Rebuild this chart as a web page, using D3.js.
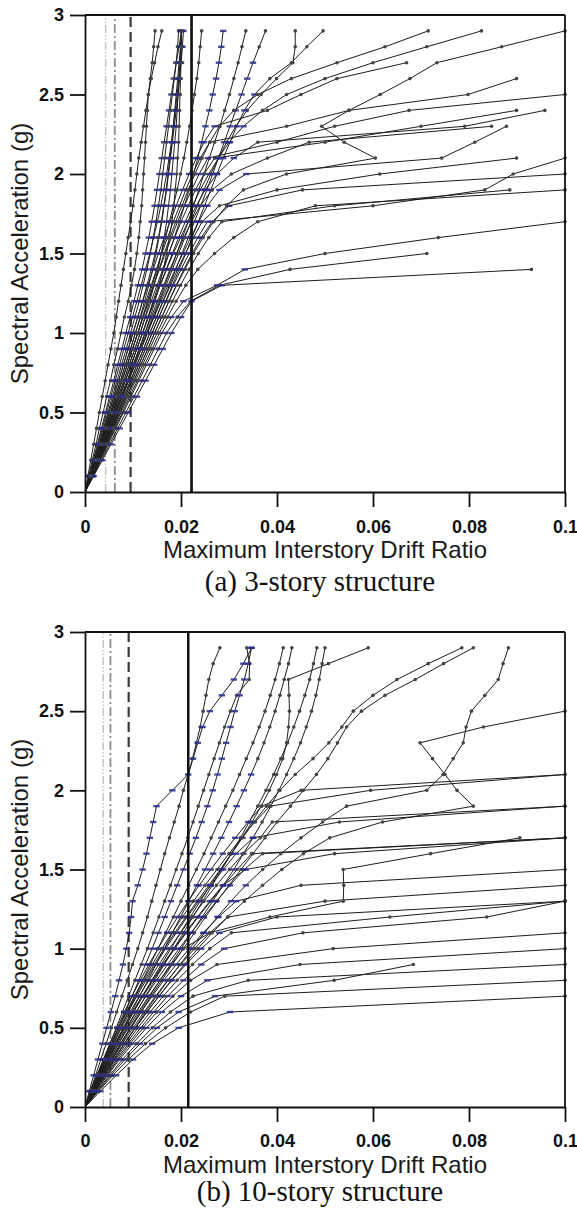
<!DOCTYPE html>
<html><head><meta charset="utf-8">
<script src="https://cdn.jsdelivr.net/npm/d3@7/dist/d3.min.js"></script>
<style>body{margin:0;background:#fff}svg{display:block}</style>
</head><body>
<svg id="c" width="577" height="1212"></svg>
<script>
// Spectral acceleration levels (g); curve values are max interstory drift x1000 at each level
const saLevels = [0,0.1,0.2,0.3,0.4,0.5,0.6,0.7,0.8,0.9,1.0,1.1,1.2,1.3,1.4,1.5,1.6,1.7,1.8,1.9,2.0,2.1,2.2,2.3,2.4,2.5,2.6,2.7,2.8,2.9];
const xTicks = [0,0.02,0.04,0.06,0.08,0.1];
const xTickLabels = ["0","0.02","0.04","0.06","0.08","0.1"];
const yTicks = [0,0.5,1,1.5,2,2.5,3];
const yTickLabels = ["0","0.5","1","1.5","2","2.5","3"];
const refLinesA = [0.0043,0.0062,0.0095,0.0222];
const refLinesB = [0.0038,0.0053,0.0091,0.0215];
const captionA = "(a) 3-story structure";
const captionB = "(b) 10-story structure";
const xTitle = "Maximum Interstory Drift Ratio";
const yTitle = "Spectral Acceleration (g)";

// 3-story structure IDA curves (drift x1000)
const curvesA = [
[0,.8,1.5,2.3,3.0,3.8,4.5,5.3,6.0,6.8,7.5,8.2,9.0,9.7,10.3,10.8,11.2,11.5,11.8,12.0,12.2,12.4,12.6,12.8,13.0,13.2,13.6,14.0,14.3,14.6],
[0,.9,1.7,2.6,3.4,4.3,5.1,6.0,6.8,7.7,8.5,9.4,10.2,11.0,11.9,12.6,13.3,13.9,14.5,15.0,15.5,16.0,16.5,17.0,17.5,18.0,18.5,19.0,19.6,20.1],
[0,1.0,1.9,2.9,3.8,4.8,5.7,6.7,7.6,8.6,9.5,10.4,11.3,12.1,12.9,13.6,14.2,14.8,15.3,15.8,16.2,16.6,17.0,17.4,17.8,18.2,18.6,19.0,19.3,19.5],
[0,1.1,2.1,3.2,4.2,5.3,6.3,7.4,8.4,9.5,10.5,11.5,12.4,13.3,14.1,14.8,15.4,16.0,16.5,17.0,17.4,17.8,18.2,18.6,19.0,19.4,19.7,20.0,20.3,20.5],
[0,1.1,2.2,3.3,4.4,5.5,6.6,7.7,8.8,9.9,11.0,12.0,13.0,14.0,15.0,15.9,16.8,17.6,18.4,19.2,19.9,20.6,21.2,21.8,22.3,22.8,23.3,23.7,24.0,24.3],
[0,1.2,2.4,3.6,4.8,6.0,7.2,8.4,9.6,10.8,12.0,13.1,14.2,15.3,16.4,17.5,18.6,19.7,20.7,21.7,22.6,23.5,24.3,25.1,25.9,26.6,27.3,27.9,28.4,28.8],
[0,1.3,2.6,3.8,5.1,6.4,7.7,9.0,10.2,11.5,12.8,14.1,15.4,16.6,17.9,19.1,20.3,21.5,22.6,23.7,24.8,25.9,27.0,28.1,29.1,30.1,31.0,31.9,32.7,33.5],
[0,1.4,2.7,4.1,5.4,6.8,8.1,9.5,10.8,12.2,13.5,14.9,16.2,17.6,18.9,20.2,21.5,22.8,24.1,25.4,26.6,27.8,29.0,30.2,31.4,32.6,33.8,35.0,36.3,37.6],
[0,1.3,2.6,3.9,5.2,6.5,7.8,9.1,10.4,11.7,13.0,14.3,15.6,16.9,18.2,19.5,20.8,22.1,23.4,24.8,26.2,27.8,29.5,31.4,33.8,36.7,39.9,43.3,43.8,43.8],
[0,1.4,2.8,4.2,5.6,7.0,8.4,9.8,11.2,12.6,14.0,15.4,16.8,18.2,19.6,21.0,22.3,23.6,24.9,26.2,27.5,28.8,30.2,31.6,33.2,35.3,38.5,43.0,46.2,49.6],
[0,1.0,2.0,3.0,4.0,5.0,6.0,7.0,8.0,9.0,10.0,11.0,12.0,12.9,13.8,14.6,15.3,15.9,16.4,16.9,17.3,17.7,18.1,18.4,18.7,19.0,19.3,19.6,19.9,20.1],
[0,1.2,2.3,3.5,4.6,5.8,6.9,8.1,9.2,10.4,11.5,12.5,13.5,14.4,15.2,15.9,16.5,17.0,17.4,17.8,18.1,18.4,18.7,19.0,19.2,19.4,19.6,19.8,20.0,20.1],
[0,.6,1.2,1.8,2.4,3.0,3.6,4.2,4.8,5.4,6.0,6.5,7.0,7.5,8.0,8.5,9.0,9.5,10.0,10.4,10.8,11.2,11.7,12.2,12.7,13.2,13.8,14.5,15.2,16.0],
[0,.9,1.8,2.7,3.6,4.5,5.4,6.3,7.2,8.1,9.0,9.9,10.8,11.7,12.6,13.5,14.3,15.1,15.8,16.4,17.0,17.5,18.0,18.4,18.8,19.2,19.5,19.8,20.0,20.1],
[0,1.3,2.5,3.8,5.0,6.3,7.5,8.8,10.0,11.3,12.5,13.6,14.6,15.5,16.3,17.0,17.6,18.1,18.5,18.8,19.1,19.3,19.5,19.6,19.7,19.8,19.9,20.0,20.1,20.1],
[0,1.6,3.2,4.8,6.4,8.0,9.6,11.2,12.8,14.4,16.0,18.0,20.5,27.5,33.3,50.0,73.6,100],
[0,1.7,3.4,5.1,6.8,8.5,10.2,11.9,13.6,15.3,17.0,19.2,22.0,28.0,42.7,71.2],
[0,1.8,3.6,5.4,7.2,9.0,10.8,12.6,14.4,16.2,18.0,20.0,22.2,28.5,93.0],
[0,1.6,3.1,4.7,6.2,7.8,9.3,10.9,12.4,14.0,15.5,17.2,19.0,21.0,23.5,27.0,31.0,36.0,48.0,100],
[0,1.5,2.9,4.4,5.8,7.3,8.7,10.2,11.6,13.1,14.5,16.0,17.5,19.0,20.6,22.3,24.2,26.5,30.0,45.3,100],
[0,1.5,3.0,4.5,6.0,7.5,9.0,10.5,12.0,13.5,15.0,16.6,18.2,19.9,21.7,23.6,25.8,28.5,52.0,88.5],
[0,1.4,2.8,4.2,5.6,7.0,8.4,9.8,11.2,12.6,14.0,15.4,16.9,18.4,20.0,21.7,23.5,25.5,60.0,83.3,89.2,100],
[0,1.4,2.7,4.1,5.4,6.8,8.1,9.5,10.8,12.2,13.5,14.9,16.3,17.8,19.3,20.9,22.6,24.4,28.0,40.0,61.4,89.9],
[0,1.3,2.6,3.9,5.2,6.5,7.8,9.1,10.4,11.7,13.0,14.4,15.8,17.3,18.8,20.4,22.0,23.7,25.5,28.0,33.6,74.3,81.2,87.8],
[0,1.3,2.5,3.8,5.0,6.3,7.5,8.8,10.0,11.3,12.5,13.8,15.1,16.4,17.7,19.1,20.6,22.2,24.0,26.5,30.5,38.0,46.7,84.7],
[0,1.2,2.4,3.6,4.8,6.0,7.2,8.4,9.6,10.8,12.0,13.2,14.4,15.7,17.0,18.4,19.9,21.5,23.2,25.0,27.5,31.0,36.0,79.1,95.8],
[0,1.2,2.3,3.5,4.6,5.8,6.9,8.1,9.2,10.4,11.5,12.6,13.8,15.0,16.2,17.4,18.7,20.0,21.5,23.0,24.8,27.0,50.0,70.0,89.9],
[0,1.1,2.2,3.3,4.4,5.5,6.6,7.7,8.8,9.9,11.0,12.1,13.2,14.3,15.5,16.7,18.0,19.3,20.7,22.2,23.8,25.6,40.0,52.0,67.5,100],
[0,1.1,2.1,3.2,4.2,5.3,6.3,7.4,8.4,9.5,10.5,11.6,12.7,13.8,14.9,16.0,17.2,18.4,19.7,21.0,22.4,24.0,26.0,42.0,55.0,79.8,89.9],
[0,1.0,2.0,3.0,4.0,5.0,6.0,7.0,8.0,9.0,10.0,11.0,12.0,13.1,14.2,15.3,16.5,17.7,19.0,20.3,21.7,23.2,24.8,27.0,38.0,45.0,52.5,67.0],
[0,1.5,2.9,4.4,5.8,7.3,8.7,10.2,11.6,13.1,14.5,16.0,17.5,19.1,20.8,22.6,24.6,26.8,29.5,33.0,42.0,60.5,54.0,49.3,55.0,61.5,67.7,73.3,86.8,100],
[0,1.2,2.4,3.6,4.8,6.0,7.2,8.4,9.6,10.8,12.0,13.2,14.4,15.6,16.9,18.2,19.5,20.9,22.4,24.0,25.8,27.8,30.0,33.0,37.0,42.0,50.0,60.0,71.2,82.6],
[0,1.1,2.2,3.3,4.4,5.5,6.6,7.7,8.8,9.9,11.0,12.1,13.2,14.3,15.4,16.5,17.7,18.9,20.2,21.5,22.9,24.4,26.0,28.0,31.0,36.0,43.0,52.5,62.5,71.5]
];

// 10-story structure IDA curves (drift x1000)
const curvesB = [
[0,1.1,2.2,3.3,4.4,5.5,6.6,7.7,8.8,9.9,11.0,12.0,13.0,13.9,14.8,15.7,16.6,17.6,18.6,19.6,20.5,21.5,22.4,23.2,24.0,24.6,25.2,25.8,26.7,28.1],
[0,0.9,1.8,2.7,3.6,4.5,5.4,6.3,7.1,7.9,8.6,9.2,9.6,9.9,11.0,12.0,12.8,13.5,14.2,14.9,18.2,21.5,22.5,23.5,24.5,26.0,28.5,31.0,33.0,34.7],
[0,1.3,2.6,3.9,5.2,6.5,7.8,9.1,10.4,11.7,13.0,14.2,15.4,16.6,17.8,19.0,20.2,21.4,22.5,23.6,24.7,25.8,26.9,28.0,29.1,30.3,31.6,34.2,34.3,33.7],
[0,1.4,2.8,4.2,5.6,7.0,8.4,9.8,11.2,12.6,14.0,15.3,16.6,17.9,19.2,20.5,21.8,23.1,24.3,25.5,26.6,27.6,28.5,29.4,30.3,31.2,32.2,33.2,34.0,34.7],
[0,1.5,3.0,4.5,6.0,7.5,9.0,10.5,12.0,13.6,15.2,16.8,18.4,20.0,21.6,23.2,24.8,26.3,27.8,29.3,30.8,32.2,33.6,35.0,36.3,37.5,38.6,39.6,40.5,41.3],
[0,1.6,3.2,4.8,6.4,8.0,9.7,11.4,13.1,14.8,16.5,18.2,19.9,21.6,23.3,25.0,26.7,28.4,30.0,31.6,33.1,34.6,36.0,37.3,38.5,39.6,40.6,41.5,42.4,43.1],
[0,1.7,3.4,5.2,7.0,8.8,10.7,12.6,14.5,16.5,18.5,20.5,22.5,24.5,26.5,28.5,30.5,32.4,34.2,36.0,37.7,39.3,40.8,42.2,43.5,44.7,45.8,46.8,47.6,48.3],
[0,1.8,3.6,5.5,7.4,9.4,11.4,13.5,15.6,17.8,20.0,22.2,24.4,26.6,28.8,31.0,33.0,35.0,36.9,38.7,40.4,42.0,43.5,44.9,46.1,47.2,48.1,48.8,49.4,50.0],
[0,1.2,2.5,3.9,5.4,7.0,8.7,10.5,12.4,14.4,16.5,18.7,21.0,23.4,25.8,28.2,30.5,32.7,34.8,36.7,38.4,39.9,41.2,42.0,42.4,42.6,42.5,42.4,50.7,59.0],
[0,1.5,3.1,4.8,6.5,8.3,10.1,12.0,13.9,15.9,17.9,19.9,21.9,24.0,26.1,28.3,30.5,32.8,35.2,37.8,40.6,43.8,47.5,50.8,53.5,55.9,60.0,65.0,71.5,78.5],
[0,1.8,3.7,5.6,7.6,9.6,11.7,13.8,16.0,18.2,20.5,22.8,25.1,27.5,30.0,32.5,35.0,37.5,40.0,42.8,45.5,48.2,50.6,52.6,54.5,57.6,62.5,68.8,74.7,80.9],
[0,2.0,4.0,6.1,8.2,10.4,12.6,14.9,17.3,19.8,22.3,24.9,27.6,30.4,33.5,37.0,40.8,45.0,49.5,54.5,71.2,74.6,76.7,78.8,79.4,80.5,83.3,86.1,87.1,88.2],
[0,1.9,3.9,6.0,8.2,10.5,12.9,15.4,18.0,20.7,23.5,26.5,29.7,33.2,37.0,41.0,45.5,51.0,62.0,80.9,77.5,75.0,72.4,69.8,83.0,100],
[0,3.2,6.5,10.0,14.0,19.5,30.2,100],
[0,2.8,5.8,9.0,12.6,16.8,22.0,29.1,100],
[0,2.6,5.4,8.3,11.5,15.0,19.5,27.1,51.9,68.4],
[0,2.5,5.1,7.8,10.8,14.0,17.8,22.5,34.0,100],
[0,2.3,4.7,7.2,9.9,12.8,16.0,20.0,25.5,44.8,100],
[0,2.2,4.5,6.9,9.4,12.1,15.0,18.3,22.0,27.5,51.7,100],
[0,2.1,4.3,6.6,9.0,11.6,14.3,17.2,20.5,24.2,29.0,45.4,83.7,100],
[0,2.0,4.1,6.3,8.6,11.0,13.6,16.3,19.2,22.4,26.0,30.5,63.5,100],
[0,1.9,3.9,6.0,8.2,10.5,12.9,15.4,18.1,21.0,24.2,28.0,40.0,100],
[0,1.8,3.7,5.7,7.8,10.0,12.3,14.7,17.2,19.9,22.8,26.0,29.8,50.0,100],
[0,1.7,3.5,5.4,7.4,9.5,11.7,14.0,16.4,19.0,21.7,24.6,27.8,31.5,45.0,100],
[0,1.6,3.3,5.1,7.0,9.0,11.1,13.3,15.6,18.0,20.5,26.0,38.5,53.8,53.9,53.8,72.0,90.6],
[0,1.6,3.2,4.9,6.7,8.6,10.6,12.7,14.9,17.2,19.6,22.1,24.7,27.4,30.2,33.2,37.0,100],
[0,1.5,3.1,4.7,6.4,8.2,10.1,12.1,14.2,16.4,18.7,21.1,23.6,26.2,28.9,31.7,34.7,100],
[0,1.4,2.9,4.5,6.2,8.0,9.9,11.9,14.0,16.2,18.5,20.9,23.4,26.0,28.7,33.5,52.0,100],
[0,1.4,2.8,4.3,5.9,7.6,9.4,11.3,13.3,15.4,17.6,19.9,22.3,24.8,27.4,30.1,33.0,36.5,39.0,100],
[0,1.3,2.7,4.2,5.7,7.3,9.0,10.8,12.7,14.7,16.8,19.0,21.3,23.7,26.2,28.8,31.5,35.0,53.0,100],
[0,1.3,2.6,4.0,5.5,7.0,8.6,10.3,12.1,14.0,16.0,18.1,20.3,22.6,25.0,27.5,30.0,32.6,35.4,38.5,59.5,100],
[0,1.2,2.5,3.8,5.2,6.7,8.2,9.8,11.5,13.3,15.2,17.2,19.3,21.5,23.8,26.2,28.7,31.3,34.0,36.8,45.0,100]
];

const svg = d3.select("#c");
const panels = [
  {curves: curvesA, refs: refLinesA, top: 15, bottom: 492, caption: captionA, tickPad: 13, titleY: 558, capY: 591},
  {curves: curvesB, refs: refLinesB, top: 632, bottom: 1107, caption: captionB, tickPad: 12, titleY: 1173, capY: 1201}
];
const refStyles = [
  {stroke: "#c2c2c2", w: 1.4, dash: "8,2,1.5,2,1.5,2"},
  {stroke: "#8c8c8c", w: 1.8, dash: "9,3,2,3"},
  {stroke: "#3a3a3a", w: 2.2, dash: "10,5"},
  {stroke: "#111", w: 2.2, dash: null}
];

panels.forEach((p, pi) => {
  const x = d3.scaleLinear().domain([0, 0.1]).range([85, 565]);
  const y = d3.scaleLinear().domain([0, 3]).range([p.bottom, p.top]);
  const g = svg.append("g");
  const clipId = "clip" + pi;
  g.append("clipPath").attr("id", clipId).append("rect")
    .attr("x", 85).attr("y", p.top - 3).attr("width", 482).attr("height", p.bottom - p.top + 3);

  p.refs.forEach((r, i) => {
    const s = refStyles[i];
    g.append("line").attr("x1", x(r)).attr("x2", x(r)).attr("y1", y(0)).attr("y2", y(3))
      .attr("stroke", s.stroke).attr("stroke-width", s.w)
      .attr("stroke-dasharray", s.dash);
  });

  const line = d3.line().x(d => x(d[0] / 1000)).y(d => y(d[1]));
  const cg = g.append("g").attr("clip-path", `url(#${clipId})`);
  p.curves.forEach((c, ci) => {
    const pts = c.map((d, i) => [d, saLevels[i]]);
    cg.append("path").attr("d", line(pts)).attr("fill", "none")
      .attr("stroke", "#1e1e1e").attr("stroke-width", 1).attr("stroke-linejoin", "round");
  });
  p.curves.forEach((c, ci) => {
    const pts = c.map((d, i) => [d, saLevels[i]]).slice(1);
    pts.forEach(d => {
      if (ci % 2 === 1 && d[0] < 36) {
        cg.append("rect").attr("x", x(d[0] / 1000) - 3.2).attr("y", y(d[1]) - 1.2)
          .attr("width", 6.4).attr("height", 2.4).attr("fill", "#2a2a8c").attr("opacity", 0.85);
      } else {
        cg.append("circle").attr("cx", x(d[0] / 1000)).attr("cy", y(d[1])).attr("r", 1.8)
          .attr("fill", "#444");
      }
    });
  });

  g.append("line").attr("x1", x(p.refs[3])).attr("x2", x(p.refs[3])).attr("y1", y(0)).attr("y2", y(3))
    .attr("stroke", "#111").attr("stroke-width", 2.2);

  g.append("line").attr("x1", 85).attr("x2", 565).attr("y1", y(3)).attr("y2", y(3)).attr("stroke", "#111").attr("stroke-width", 1.8);
  g.append("line").attr("x1", 565).attr("x2", 565).attr("y1", y(3)).attr("y2", y(0)).attr("stroke", "#111").attr("stroke-width", 1.8);

  const xa = g.append("g").attr("transform", `translate(0,${p.bottom})`)
    .call(d3.axisBottom(x).tickValues(xTicks).tickFormat((d, i) => xTickLabels[i]).tickSize(15).tickSizeOuter(0).tickPadding(p.tickPad));
  const ya = g.append("g").attr("transform", "translate(85,0)")
    .call(d3.axisLeft(y).tickValues(yTicks).tickFormat((d, i) => yTickLabels[i]).tickSize(15).tickSizeOuter(0).tickPadding(6));
  [xa, ya].forEach(a => {
    a.select(".domain").attr("stroke", "#111").attr("stroke-width", 1.8);
    a.selectAll(".tick line").attr("stroke", "#111").attr("stroke-width", 1.8);
    a.selectAll(".tick text").attr("fill", "#111").style("font-family", "'Liberation Sans', Arial, sans-serif")
      .style("font-size", "18px").style("font-weight", "bold");
  });

  g.append("text").attr("x", 325).attr("y", p.titleY).attr("text-anchor", "middle")
    .style("font-family", "'Liberation Sans', Arial, sans-serif").style("font-size", "24px").attr("fill", "#1a1a1a")
    .text(xTitle);
  g.append("text").attr("transform", `translate(28,${(p.top + p.bottom) / 2}) rotate(-90)`).attr("text-anchor", "middle")
    .style("font-family", "'Liberation Sans', Arial, sans-serif").style("font-size", "24px").attr("fill", "#1a1a1a")
    .text(yTitle);
  g.append("text").attr("x", 320).attr("y", p.capY).attr("text-anchor", "middle")
    .style("font-family", "'Liberation Serif', 'Times New Roman', serif").style("font-size", "29px").attr("fill", "#111")
    .text(p.caption);
});
</script>
</body></html>
